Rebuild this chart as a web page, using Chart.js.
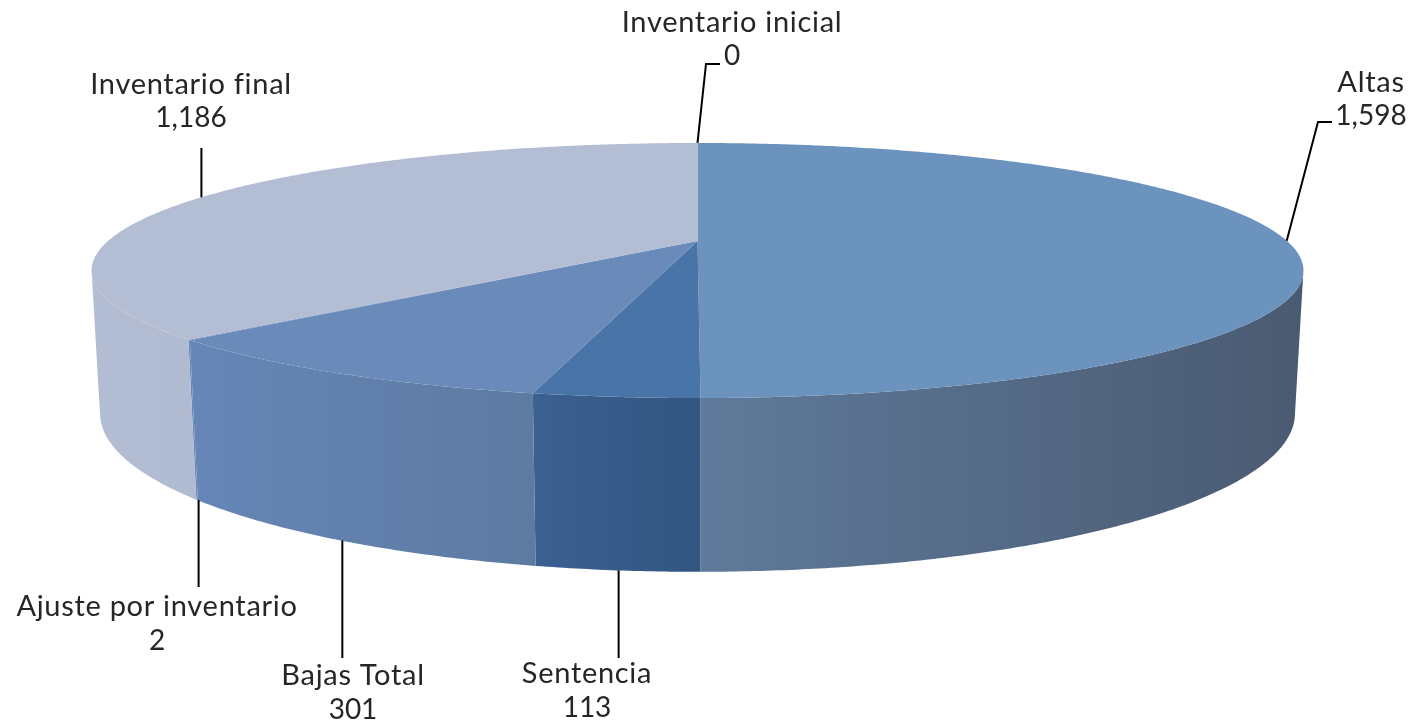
<!DOCTYPE html>
<html>
<head>
<meta charset="utf-8">
<title>Inventario</title>
<script src="https://cdn.jsdelivr.net/npm/chart.js@4/dist/chart.umd.js"></script>
<style>
    html, body { margin: 0; padding: 0; background: #fff; }
    canvas { display: block; }
</style>
</head>
<body>
<canvas id="pieChart" width="1412" height="725"></canvas>
<script>
const categories = ['Inventario inicial', 'Altas', 'Sentencia', 'Bajas Total', 'Ajuste por inventario', 'Inventario final'];
const values = [0, 1598, 113, 301, 2, 1186];
const topColors = ['#6C92BE', '#6C92BE', '#4874A8', '#6A8AB9', '#6C8CBE', '#B3BDD3'];
const wallLeft = ['#5F7A9B', '#5F7A9B', '#3B6092', '#6586B7', '#6586B7', '#B3BDD3'];
const wallRight = ['#4A5A71', '#4A5A71', '#325680', '#5D7AA1', '#6586B7', '#B0BAD0'];

// label centre x, y of each text line, and the bend of the leader line
const labelSpots = [
    { x: 732, y: [23, 56], bend: [[706, 64], [720, 64]] },
    { x: 1371, y: [83, 116], bend: [[1318, 122], [1332, 122]] },
    { x: 587, y: [674, 708], endY: 658 },
    { x: 353, y: [676, 710], endY: 658 },
    { x: 157, y: [607, 641], endY: 587 },
    { x: 191, y: [85, 118], endY: 148 }
];

// perspective of the tilted disc, a = angle clockwise from the top, h = 0 top face, 1 bottom rim
const cam = { x: 697.5, y: 241, sx: 589.5, sy: 120.7, drop: 138, p: 0.2314, q: 0.0134 };
function project(a, h) {
    const u = Math.sin(a), v = Math.cos(a);
    const w = 1 + cam.p * v + cam.q * h;
    return [cam.x + cam.sx * u / w, cam.y + (-cam.sy * v + cam.drop * h) / w];
}

function rimPoints(a0, a1, h) {
    const pts = [];
    const n = Math.max(2, Math.ceil(Math.abs(a1 - a0) / 0.008));
    for (let i = 0; i <= n; i++) pts.push(project(a0 + (a1 - a0) * i / n, h));
    return pts;
}

function fillPoly(ctx, pts, fill) {
    ctx.beginPath();
    pts.forEach((p, i) => i ? ctx.lineTo(p[0], p[1]) : ctx.moveTo(p[0], p[1]));
    ctx.closePath();
    ctx.fillStyle = fill;
    ctx.fill();
}

const pie3d = {
    id: 'pie3d',
    beforeDatasetDraw(chart, args) {
        const ctx = chart.ctx;
        const arcs = args.meta.data.map(el => ({
            start: el.startAngle + Math.PI / 2,
            end: el.endAngle + Math.PI / 2
        }));

        // side wall, from one silhouette tangent of the rim to the other
        const wallFrom = Math.acos(-cam.p), wallTo = Math.PI * 2 - wallFrom;
        arcs.forEach((arc, i) => {
            const a0 = Math.max(arc.start, wallFrom), a1 = Math.min(arc.end, wallTo);
            if (a1 <= a0) return;
            const top = rimPoints(a0, a1, 0);
            const bottom = rimPoints(a1, a0, 1);
            const xs = top.concat(bottom).map(p => p[0]);
            const g = ctx.createLinearGradient(Math.min(...xs), 0, Math.max(...xs), 0);
            g.addColorStop(0, wallLeft[i]);
            g.addColorStop(1, wallRight[i]);
            fillPoly(ctx, top.concat(bottom), g);
        });

        // top face
        arcs.forEach((arc, i) => {
            if (arc.end <= arc.start) return;
            fillPoly(ctx, [[cam.x, cam.y]].concat(rimPoints(arc.start, arc.end, 0)), topColors[i]);
        });

        // leader lines and labels
        ctx.strokeStyle = '#000';
        ctx.lineWidth = 2;
        arcs.forEach((arc, i) => {
            const mid = (arc.start + arc.end) / 2;
            const spot = labelSpots[i];
            const front = Math.cos(mid) < -0.1;
            const anchor = project(mid, front ? 1 : 0);
            const ax = front ? anchor[0] + 1.5 : anchor[0];
            ctx.beginPath();
            ctx.moveTo(ax, anchor[1]);
            if (spot.bend) spot.bend.forEach(p => ctx.lineTo(p[0], p[1]));
            else ctx.lineTo(ax, spot.endY);
            ctx.stroke();
        });

        ctx.fillStyle = '#262626';
        ctx.textAlign = 'center';
        ctx.textBaseline = 'middle';
        categories.forEach((name, i) => {
            const spot = labelSpots[i];
            ctx.font = '29px Lato';
            ctx.letterSpacing = '0.7px';
            ctx.fillText(name, spot.x, spot.y[0]);
            ctx.font = '28px Lato';
            ctx.letterSpacing = '0px';
            ctx.fillText(values[i].toLocaleString('en-US'), spot.x, spot.y[1]);
        });
        return false; // default arcs are replaced by the drawing above
    }
};

new Chart(document.getElementById('pieChart'), {
    type: 'pie',
    data: {
        labels: categories,
        datasets: [{ data: values, backgroundColor: topColors, borderWidth: 0 }]
    },
    options: {
        responsive: false,
        animation: false,
        plugins: { legend: { display: false }, tooltip: { enabled: false } }
    },
    plugins: [pie3d]
});
</script>
</body>
</html>
